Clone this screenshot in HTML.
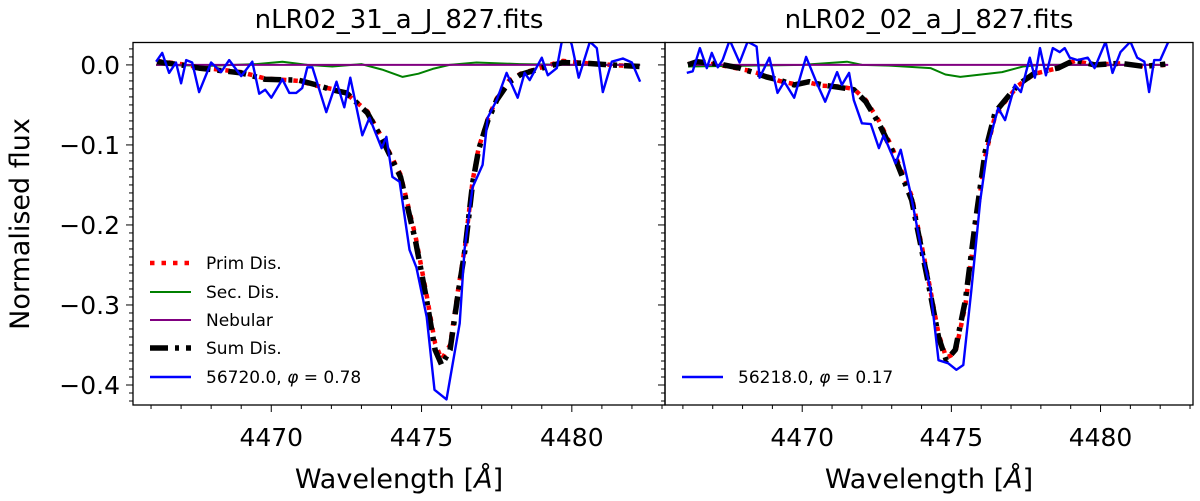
<!DOCTYPE html>
<html><head><meta charset="utf-8"><style>
html,body{margin:0;padding:0;background:#fff;}
svg{display:block;font-family:"DejaVu Sans","Liberation Sans",sans-serif;}
</style></head><body>
<svg id="fig" width="1200" height="501" viewBox="0 0 1200 501"></svg>
<script>
// ---- data ----
const xTicks = [4470, 4475, 4480];
const yTicks = [0.0, -0.1, -0.2, -0.3, -0.4];
const yTickLabels = ["0.0", "\u22120.1", "\u22120.2", "\u22120.3", "\u22120.4"];
const titles = ["nLR02_31_a_J_827.fits", "nLR02_02_a_J_827.fits"];
const obsLabels = ["56720.0, ", "56218.0, "];
const obsPhase = ["0.78", "0.17"];

const L_obsWl = [4466.17,4466.37,4466.60,4466.83,4467.00,4467.17,4467.37,4467.60,4468.00,4468.33,4468.60,4469.00,4469.37,4469.60,4469.80,4470.00,4470.37,4470.60,4470.83,4471.03,4471.20,4471.37,4471.83,4472.17,4472.43,4472.63,4473.03,4473.27,4473.67,4473.83,4474.03,4474.27,4474.60,4474.83,4475.17,4475.43,4475.83,4476.27,4476.43,4476.70,4477.03,4477.20,4477.50,4477.83,4478.20,4478.43,4478.60,4479.00,4479.20,4479.50,4479.77,4480.00,4480.23,4480.60,4480.83,4481.03,4481.33,4481.70,4482.00,4482.27];
const L_obsFlux = [0.004,0.015,-0.010,0.003,-0.023,0.006,0.003,-0.034,0.003,-0.009,0.006,-0.014,0.004,-0.036,-0.031,-0.041,-0.018,-0.035,-0.035,-0.029,-0.003,-0.003,-0.059,-0.021,-0.053,-0.016,-0.088,-0.066,-0.104,-0.090,-0.140,-0.146,-0.231,-0.253,-0.315,-0.406,-0.418,-0.323,-0.231,-0.153,-0.125,-0.066,-0.044,-0.010,-0.041,-0.010,-0.019,0.009,-0.013,-0.004,0.050,0.025,-0.016,0.029,0.021,-0.034,0.004,0.008,0.003,-0.021];
const L_modWl = [4466.2,4467.0,4467.6,4469.0,4469.8,4470.9,4471.5,4472.0,4472.5,4473.2,4473.7,4474.3,4474.8,4475.15,4475.45,4475.67,4475.95,4476.2,4476.45,4476.7,4476.9,4477.2,4477.5,4477.9,4478.3,4479.0,4479.7,4480.5,4481.3,4482.25];
const L_sumFlux = [0.004,0.0,-0.004,-0.010,-0.018,-0.019,-0.025,-0.031,-0.035,-0.060,-0.094,-0.140,-0.220,-0.290,-0.356,-0.375,-0.356,-0.290,-0.230,-0.148,-0.106,-0.070,-0.044,-0.022,-0.012,-0.004,0.003,0.002,0.0,-0.002];
const L_primFlux = [0.005,0.001,-0.003,-0.009,-0.017,-0.020,-0.026,-0.030,-0.036,-0.058,-0.092,-0.137,-0.214,-0.284,-0.348,-0.368,-0.350,-0.285,-0.226,-0.145,-0.104,-0.068,-0.042,-0.020,-0.011,-0.003,0.005,0.002,0.0,-0.002];
const L_secWl = [4466.17,4468.0,4469.5,4470.37,4471.2,4472.03,4473.0,4473.7,4474.37,4474.9,4475.37,4475.93,4476.83,4478.27,4480.0,4482.27];
const L_secFlux = [0.0,-0.001,0.001,0.004,0.0,-0.002,0.001,-0.006,-0.015,-0.011,-0.005,0.0,0.003,0.001,0.0,0.0];

const R_obsWl = [4466.13,4466.33,4466.57,4466.80,4466.97,4467.17,4467.33,4467.57,4467.90,4468.17,4468.47,4468.57,4468.90,4469.17,4469.40,4469.73,4470.13,4470.47,4470.77,4471.17,4471.33,4471.57,4471.73,4472.00,4472.30,4472.57,4472.73,4473.13,4473.30,4473.63,4474.00,4474.30,4474.57,4474.90,4475.17,4475.40,4475.67,4475.97,4476.23,4476.57,4476.80,4477.13,4477.33,4477.63,4477.80,4477.97,4478.17,4478.40,4478.63,4478.80,4478.97,4479.23,4479.57,4479.80,4480.17,4480.40,4480.67,4481.00,4481.23,4481.47,4481.63,4481.80,4482.00,4482.30];
const R_obsFlux = [-0.010,-0.008,0.021,-0.004,0.015,-0.003,0.006,0.031,0.003,0.029,0.023,-0.016,0.009,-0.035,-0.021,-0.041,0.010,-0.021,-0.046,-0.009,-0.025,-0.010,-0.044,-0.073,-0.074,-0.104,-0.088,-0.123,-0.106,-0.160,-0.231,-0.281,-0.369,-0.373,-0.381,-0.375,-0.281,-0.169,-0.100,-0.054,-0.069,-0.025,-0.034,0.009,-0.016,0.021,-0.013,0.021,0.016,0.021,0.009,0.006,0.009,-0.004,0.029,-0.010,0.016,0.029,0.009,0.004,-0.034,0.006,0.006,0.031];
const R_modWl = [4466.17,4466.47,4467.23,4467.9,4468.33,4468.8,4469.23,4469.73,4470.23,4470.67,4471.23,4471.73,4472.13,4472.57,4473.0,4473.67,4474.23,4474.57,4474.83,4475.13,4475.47,4475.8,4476.13,4476.47,4476.8,4477.23,4477.8,4478.57,4479.13,4479.8,4480.67,4481.47,4482.17];
const R_sumFlux = [0.0,0.004,0.001,-0.004,-0.009,-0.015,-0.019,-0.025,-0.021,-0.025,-0.028,-0.031,-0.046,-0.073,-0.106,-0.169,-0.273,-0.340,-0.369,-0.356,-0.294,-0.198,-0.109,-0.059,-0.044,-0.025,-0.010,-0.004,0.006,0.0,0.002,-0.002,0.001];
const R_primFlux = [0.001,0.003,0.0,-0.005,-0.008,-0.014,-0.020,-0.024,-0.022,-0.026,-0.027,-0.030,-0.044,-0.070,-0.102,-0.164,-0.268,-0.336,-0.366,-0.360,-0.300,-0.205,-0.115,-0.063,-0.046,-0.026,-0.011,-0.004,0.005,0.0,0.002,-0.002,0.0];
const R_secWl = [4466.17,4468.0,4470.0,4471.5,4472.0,4473.0,4474.3,4474.8,4475.3,4476.0,4476.7,4477.4,4478.0,4482.2];
const R_secFlux = [-0.002,-0.001,0.0,0.004,0.0,-0.001,-0.004,-0.012,-0.015,-0.012,-0.009,-0.002,0.0,0.0];

// ---- layout ----
const NS = "http://www.w3.org/2000/svg";
const svg = document.getElementById('fig');
const Y0 = 42.5, Y1 = 405;
const yMax = 0.028, yMin = -0.425;
const xMin = 4465.4, xMax = 4483.1;
function yS(v){ return Y0 + (yMax - v) / (yMax - yMin) * (Y1 - Y0); }
function mk(tag, attrs, parent){
  const e = document.createElementNS(NS, tag);
  for (const k in attrs) e.setAttribute(k, attrs[k]);
  (parent || svg).appendChild(e);
  return e;
}
const panels = [
  {x0:133, x1:665, obsWl:L_obsWl, obsF:L_obsFlux, modWl:L_modWl, sum:L_sumFlux, prim:L_primFlux, secWl:L_secWl, sec:L_secFlux, full:true},
  {x0:665, x1:1193, obsWl:R_obsWl, obsF:R_obsFlux, modWl:R_modWl, sum:R_sumFlux, prim:R_primFlux, secWl:R_secWl, sec:R_secFlux, full:false}
];
panels.forEach((p, pi) => {
  const xS = v => p.x0 + (v - xMin) / (xMax - xMin) * (p.x1 - p.x0);
  const g = mk('g', {});
  
  
  const cid = 'clip' + pi;
  const cp = mk('clipPath', {id: cid}, g);
  mk('rect', {x: p.x0, y: Y0, width: p.x1 - p.x0, height: Y1 - Y0}, cp);
  const plot = mk('g', {'clip-path': 'url(#' + cid + ')'}, g);
  function line(wl, fl, style, name){
    const d = wl.map((w, i) => (i ? 'L' : 'M') + xS(w).toFixed(1) + ',' + yS(fl[i]).toFixed(1)).join(' ');
    const e = mk('path', Object.assign({d: d, fill: 'none', 'stroke-linejoin': 'round'}, style), plot);
    
    
  }
  line(p.modWl, p.prim, {stroke: '#ff0000', 'stroke-width': 4.5, 'stroke-dasharray': '4.5,7'}, 'prim-dis-line');
  line(p.secWl, p.sec, {stroke: '#008000', 'stroke-width': 2}, 'sec-dis-line');
  line([xMin + 0.77, xMax - 0.83], [0, 0], {stroke: '#800080', 'stroke-width': 2}, 'nebular-line');
  line(p.modWl, p.sum, {stroke: '#000', 'stroke-width': 5.5, 'stroke-dasharray': '18,7,4,7'}, 'sum-dis-line');
  line(p.obsWl, p.obsF, {stroke: '#0000ff', 'stroke-width': 2.4}, 'observed-spectrum-line');
  const fr = mk('rect', {x: p.x0, y: Y0, width: p.x1 - p.x0, height: Y1 - Y0, fill: 'none', stroke: '#000', 'stroke-width': 1.3}, g);
  
  
  for (let w = 4466; w <= 4483; w++) {
    const major = xTicks.indexOf(w) >= 0;
    const X = xS(w);
    mk('line', {x1: X, x2: X, y1: Y1, y2: Y1 + (major ? 7 : 4), stroke: '#000', 'stroke-width': 1}, g);
  }
  xTicks.forEach(t => {
    const e = mk('text', {x: xS(t), y: 446, 'font-size': 25, 'text-anchor': 'middle'}, g);
    e.textContent = t;
    
    
  });
  for (let k = 2; k >= -42; k--) {
    const v = k / 100;
    const major = k % 10 === 0;
    const Y = yS(v);
    mk('line', {x1: p.x0 - (major ? 7 : 4), x2: p.x0, y1: Y, y2: Y, stroke: '#000', 'stroke-width': 1}, g);
  }
  if (p.full) {
    yTicks.forEach((t, i) => {
      const e = mk('text', {x: 120, y: yS(t) + 9, 'font-size': 25, 'text-anchor': 'end'}, g);
      e.textContent = yTickLabels[i];
      
      
    });
  }
  const ti = mk('text', {x: (p.x0 + p.x1) / 2, y: 28, 'font-size': 26, 'text-anchor': 'middle'}, g);
  ti.textContent = titles[pi];
  
  
  const xl = mk('text', {x: (p.x0 + p.x1) / 2, y: 488, 'font-size': 27, 'text-anchor': 'middle'}, g);
  xl.textContent = 'Wavelength [';
  const ai = mk('tspan', {'font-style': 'italic'}, xl); ai.textContent = '\u00C5';
  const ac = mk('tspan', {}, xl); ac.textContent = ']';
  
  
  const lg = mk('g', {}, g);
  
  
  const lx = p.x0 + 17;
  const entries = p.full ? [
    ['Prim Dis.', {stroke: '#ff0000', 'stroke-width': 4.5, 'stroke-dasharray': '4.5,7'}],
    ['Sec. Dis.', {stroke: '#008000', 'stroke-width': 2}],
    ['Nebular', {stroke: '#800080', 'stroke-width': 2}],
    ['Sum Dis.', {stroke: '#000', 'stroke-width': 5.5, 'stroke-dasharray': '18,7,4,7'}],
    ['obs', {stroke: '#0000ff', 'stroke-width': 2.4}]
  ] : [['obs', {stroke: '#0000ff', 'stroke-width': 2.4}]];
  const ys = [263, 292, 320, 348, 377];
  entries.forEach((en, i) => {
    const y = p.full ? ys[i] : 377;
    mk('line', Object.assign({x1: lx, x2: lx + 41, y1: y, y2: y}, en[1]), lg);
    const t = mk('text', {x: lx + 56, y: y + 6, 'font-size': 17}, lg);
    if (en[0] === 'obs') {
      t.textContent = obsLabels[pi];
      const ts = mk('tspan', {'font-style': 'italic'}, t); ts.textContent = '\u03C6';
      const ts2 = mk('tspan', {}, t); ts2.textContent = ' = ' + obsPhase[pi];
    } else t.textContent = en[0];
    
    
  });
});
const yl = mk('text', {x: 0, y: 0, 'font-size': 27, 'text-anchor': 'middle', transform: 'translate(29,224) rotate(-90)'});
yl.textContent = 'Normalised flux';


</script>
</body></html>
